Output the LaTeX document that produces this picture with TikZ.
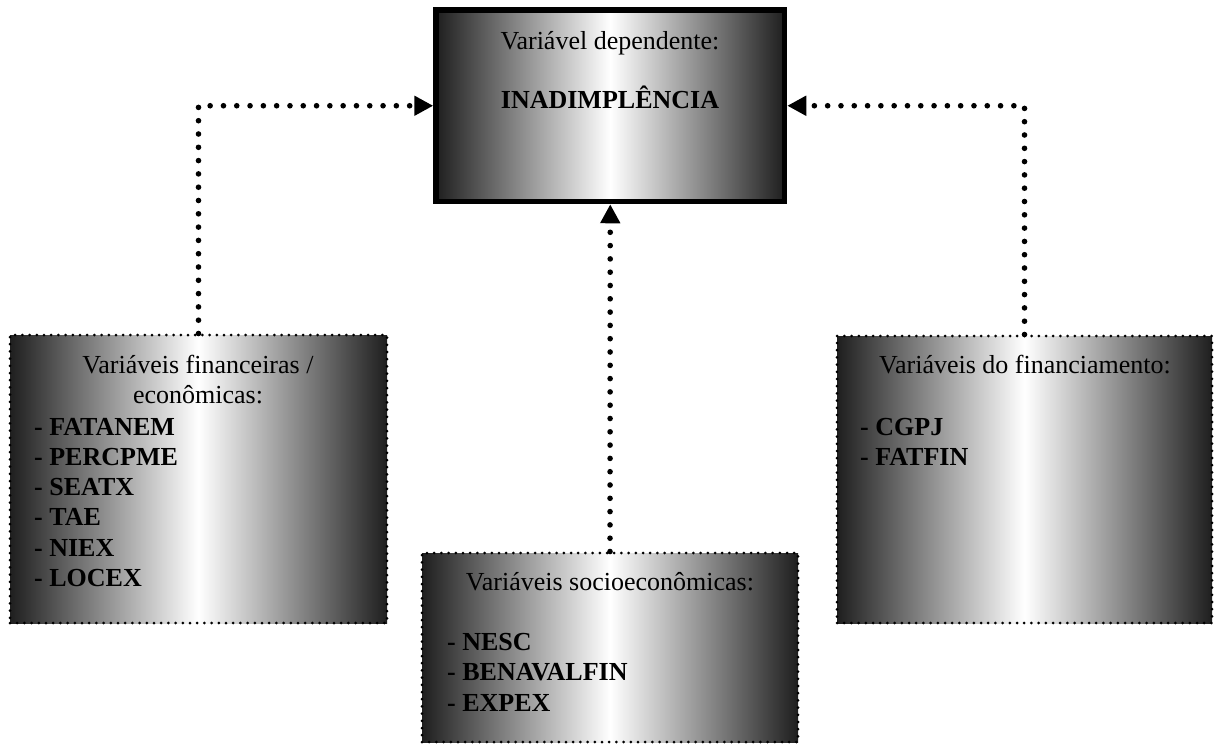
\documentclass[tikz,border=0pt]{standalone}
\usepackage{fontspec}
\setmainfont{Liberation Serif}
\usetikzlibrary{arrows.meta}
\begin{document}
\begin{tikzpicture}[x=1pt,y=-1pt,
  shadebox/.style={left color=black!88, right color=black!88, middle color=white, inner sep=0pt},
  dotbox/.style={shadebox, draw=black, line width=3pt, dash pattern=on 0pt off 7.2pt, line cap=round},
  mainbox/.style={shadebox, draw=black, line width=5.5pt},
  conn/.style={draw=black, line width=5.6pt, dash pattern=on 0pt off 13.3pt, line cap=round, -{Triangle[length=19pt,width=19pt]}},
  txt/.style={font=\fontsize{26}{30}\selectfont, inner sep=0pt},
  btxt/.style={font=\fontsize{26}{30}\selectfont\bfseries, inner sep=0pt, anchor=base west}
]
\useasboundingbox (0,0) rectangle (1214,744);
\fill[white] (0,0) rectangle (1214,744);

% boxes
\node[mainbox, minimum width=348.5pt, minimum height=191.5pt] (T) at (610.25,105.75) {};
\node[dotbox, minimum width=377pt, minimum height=288pt] (L) at (198.5,479) {};
\node[dotbox, minimum width=376pt, minimum height=189pt] (M) at (610,647.5) {};
\node[dotbox, minimum width=375pt, minimum height=287pt] (R) at (1024.5,479.5) {};

% texts of the top box
\node[txt, anchor=base] (t1) at (610,49) {Variável dependente:};
\node[txt, anchor=base, font=\fontsize{26}{30}\selectfont\bfseries] (t2) at (610,108) {INADIMPLÊNCIA};

% left box
\node[txt, anchor=base] (l1) at (198,373) {Variáveis financeiras /};
\node[txt, anchor=base] (l2) at (198,403) {econômicas:};
\foreach \w [count=\i from 0] in {FATANEM,PERCPME,SEATX,TAE,NIEX,LOCEX}
  \node[btxt] (lv\i) at (34,435+30.3*\i) {- \w};

% middle box
\node[txt, anchor=base] (m1) at (610,590) {Variáveis socioeconômicas:};
\foreach \w [count=\i from 0] in {NESC,BENAVALFIN,EXPEX}
  \node[btxt] (mv\i) at (447,650+30.5*\i) {- \w};

% right box
\node[txt, anchor=base] (r1) at (1025,373) {Variáveis do financiamento:};
\foreach \w [count=\i from 0] in {CGPJ,FATFIN}
  \node[btxt] (rv\i) at (860,435+30.3*\i) {- \w};

% connectors
\draw[conn] (L.north) |- (T.west);
\draw[conn] (R.north) |- (T.east);
\draw[conn] (M.north) -- (T.south);
\end{tikzpicture}
\end{document}
